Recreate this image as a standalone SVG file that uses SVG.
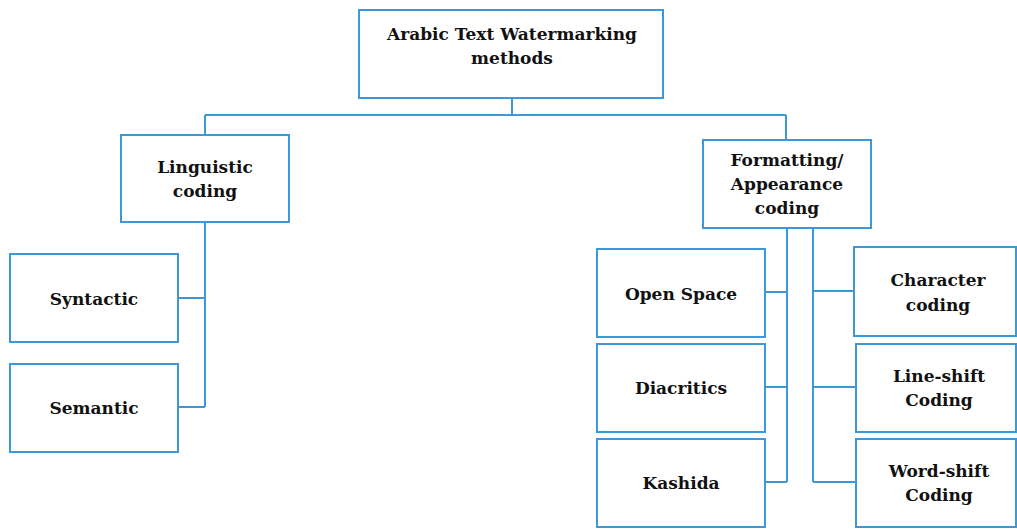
<svg xmlns="http://www.w3.org/2000/svg" width="1017" height="529" viewBox="0 0 1017 529">
<style>
.box{fill:#fff;stroke:#3d97d9;stroke-width:2}
.ln{fill:none;stroke:#3d97d9;stroke-width:2}
text{font-family:"DejaVu Serif","Liberation Serif",serif;font-weight:bold;font-size:17px;fill:#111;text-anchor:middle}
</style>
<rect width="1017" height="529" fill="#fff"/>
<g id="connectors">
<path class="ln" d="M512 98V115M205 115H786M205 115V135M786 115V140"/>
<path class="ln" d="M205 222V407M178 298H205M178 407H205"/>
<path class="ln" d="M787 228V482M765 292H787M765 387H787M765 482H787"/>
<path class="ln" d="M813 228V482M813 291H854M813 387H856M813 482H856"/>
</g>
<g id="root"><rect class="box" x="359" y="10" width="304" height="88"/><text x="512" y="40">Arabic Text Watermarking</text><text x="512" y="64">methods</text></g>
<g id="linguistic"><rect class="box" x="121" y="135" width="168" height="87"/><text x="205" y="173">Linguistic</text><text x="205" y="197">coding</text></g>
<g id="syntactic"><rect class="box" x="10" y="254" width="168" height="88"/><text x="94" y="305">Syntactic</text></g>
<g id="semantic"><rect class="box" x="10" y="364" width="168" height="88"/><text x="94" y="414">Semantic</text></g>
<g id="formatting"><rect class="box" x="703" y="140" width="168" height="88"/><text x="787" y="166">Formatting/</text><text x="787" y="190">Appearance</text><text x="787" y="214">coding</text></g>
<g id="openspace"><rect class="box" x="597" y="249" width="168" height="88"/><text x="681" y="300">Open Space</text></g>
<g id="diacritics"><rect class="box" x="597" y="344" width="168" height="88"/><text x="681" y="394">Diacritics</text></g>
<g id="kashida"><rect class="box" x="597" y="439" width="168" height="88"/><text x="681" y="489">Kashida</text></g>
<g id="character"><rect class="box" x="854" y="247" width="162" height="89"/><text x="938" y="286">Character</text><text x="938" y="311">coding</text></g>
<g id="lineshift"><rect class="box" x="856" y="344" width="160" height="88"/><text x="939" y="382">Line-shift</text><text x="939" y="406">Coding</text></g>
<g id="wordshift"><rect class="box" x="856" y="439" width="160" height="88"/><text x="939" y="477">Word-shift</text><text x="939" y="501">Coding</text></g>
</svg>
